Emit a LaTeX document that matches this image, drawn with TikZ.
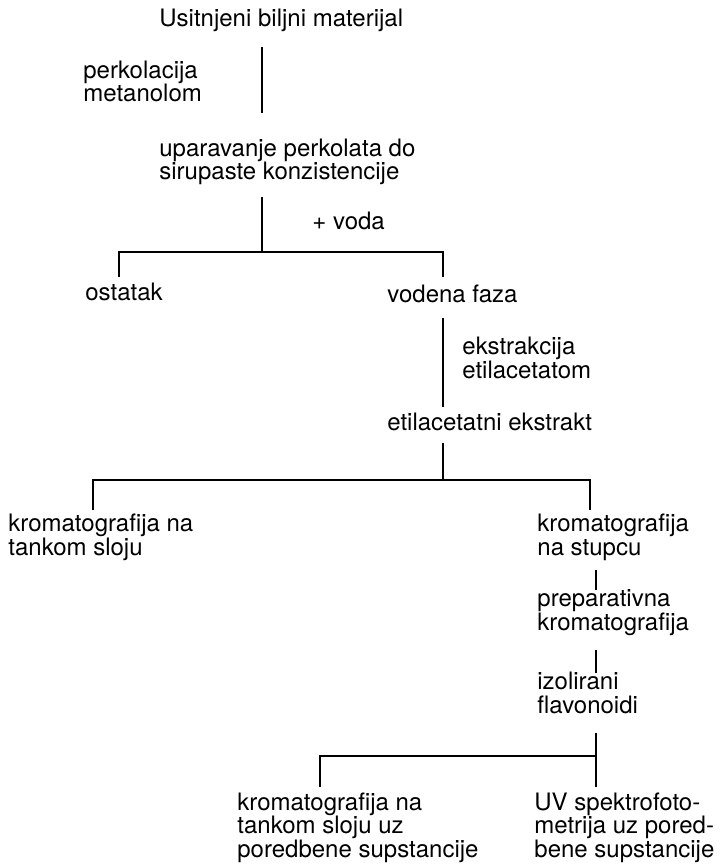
\documentclass[tikz,border=0pt]{standalone}
\usepackage{fontspec}
\setmainfont{TeX Gyre Heros}

\begin{document}
\begin{tikzpicture}[x=0.5pt,y=-0.5pt,
    txt/.style={anchor=base west,inner sep=0pt,align=left,font=\fontsize{12}{11.75}\selectfont},
    stem/.style={line width=1.4pt}]
  \useasboundingbox (0,0) rectangle (723,866);

  % texts (placed at the baseline of their last line)
  \node[txt] (start) at (159,27) {Usitnjeni biljni materijal};
  \node[txt] (perk) at (83,102) {perkolacija\\metanolom};
  \node[txt] (upar) at (159,180) {uparavanje perkolata do\\sirupaste konzistencije};
  \node[txt] (voda) at (312,229) {+ voda};
  \node[txt] (ostatak) at (85,300) {ostatak};
  \node[txt] (vodena) at (387,302) {vodena faza};
  \node[txt] (ekstr) at (462,378) {ekstrakcija\\etilacetatom};
  \node[txt] (etil) at (387,430) {etilacetatni ekstrakt};
  \node[txt] (tlc) at (8,555) {kromatografija na\\tankom sloju};
  \node[txt] (stupac) at (537,555) {kromatografija\\na stupcu};
  \node[txt] (prep) at (537,630) {preparativna\\kromatografija};
  \node[txt] (izol) at (537,713) {izolirani\\flavonoidi};
  \node[txt] (tlcuz) at (237,857) {kromatografija na\\tankom sloju uz\\poredbene supstancije};
  \node[txt] (uv) at (534,857) {UV spektrofoto-\\metrija uz pored-\\bene supstancije};

  % forks and drops
  \coordinate (f1) at (262,252);
  \coordinate (f2) at (443,480);
  \coordinate (f3) at (596,756);
  \coordinate (d1) at (119,277);
  \coordinate (d2) at (443,277);
  \coordinate (d3) at (93,510);
  \coordinate (d4) at (590,510);
  \coordinate (d5) at (320,787);
  \coordinate (d6) at (596,787);

  % stage 1
  \draw[stem] ([yshift=-10pt]start.base -| f1) -- ([yshift=33.5pt]upar.base -| f1);
  \draw[stem] ([yshift=-8.5pt]upar.base -| f1) -- (f1);
  \draw[stem] (d1) |- (f1) -| (d2);
  % stage 2
  \draw[stem] ([yshift=-8pt]vodena.base -| d2) -- ([yshift=11.5pt]etil.base -| d2);
  \draw[stem] ([yshift=-6.5pt]etil.base -| f2) -- (f2);
  \draw[stem] (d3) |- (f2) -| (d4);
  % stage 3
  \draw[stem] ([yshift=-7.5pt]stupac.base -| f3) -- ([yshift=20pt]prep.base -| f3);
  \draw[stem] ([yshift=-10pt]prep.base -| f3) -- ([yshift=20pt]izol.base -| f3);
  \draw[stem] ([yshift=-10pt]izol.base -| f3) -- (f3);
  \draw[stem] (d5) |- (f3) -- (d6);
\end{tikzpicture}
\end{document}
